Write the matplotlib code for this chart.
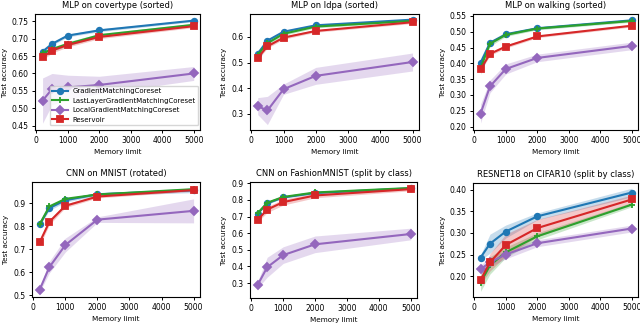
import matplotlib
matplotlib.use("Agg")
import matplotlib.pyplot as plt
import numpy as np

memory = [200, 500, 1000, 2000, 5000]

methods = ["GradientMatchingCoreset", "LastLayerGradientMatchingCoreset",
           "LocalGradientMatchingCoreset", "Reservoir"]
colors = ["#1f77b4", "#2ca02c", "#9467bd", "#d62728"]
markers = ["o", "+", "D", "s"]

titles = ["MLP on covertype (sorted)", "MLP on ldpa (sorted)", "MLP on walking (sorted)",
          "CNN on MNIST (rotated)", "CNN on FashionMNIST (split by class)",
          "RESNET18 on CIFAR10 (split by class)"]

# mean accuracy, rows = methods (GMC, LastLayer, Local, Reservoir)
covertype_acc = [[0.663, 0.685, 0.709, 0.724, 0.752],
                 [0.658, 0.670, 0.685, 0.710, 0.740],
                 [0.522, 0.555, 0.560, 0.567, 0.600],
                 [0.646, 0.666, 0.682, 0.705, 0.736]]
covertype_sd = [[0.004, 0.004, 0.004, 0.004, 0.003],
                [0.006, 0.006, 0.006, 0.005, 0.004],
                [0.065, 0.045, 0.035, 0.025, 0.020],
                [0.007, 0.007, 0.006, 0.005, 0.004]]

ldpa_acc = [[0.535, 0.585, 0.620, 0.645, 0.667],
            [0.530, 0.575, 0.612, 0.640, 0.662],
            [0.330, 0.313, 0.396, 0.448, 0.502],
            [0.518, 0.563, 0.597, 0.623, 0.657]]
ldpa_sd = [[0.005, 0.006, 0.005, 0.004, 0.004],
           [0.006, 0.007, 0.006, 0.005, 0.004],
           [0.033, 0.055, 0.020, 0.033, 0.035],
           [0.007, 0.007, 0.006, 0.005, 0.005]]

walking_acc = [[0.402, 0.465, 0.492, 0.511, 0.536],
               [0.385, 0.462, 0.490, 0.510, 0.534],
               [0.241, 0.327, 0.382, 0.417, 0.455],
               [0.381, 0.430, 0.453, 0.485, 0.519]]
walking_sd = [[0.004, 0.005, 0.004, 0.004, 0.003],
              [0.020, 0.008, 0.005, 0.004, 0.004],
              [0.030, 0.020, 0.016, 0.012, 0.012],
              [0.006, 0.005, 0.005, 0.004, 0.004]]

mnist_acc = [[0.808, 0.878, 0.912, 0.938, 0.955],
             [0.808, 0.885, 0.918, 0.937, 0.960],
             [0.525, 0.622, 0.718, 0.828, 0.866],
             [0.730, 0.818, 0.888, 0.928, 0.956]]
mnist_sd = [[0.006, 0.010, 0.008, 0.006, 0.010],
            [0.005, 0.006, 0.005, 0.004, 0.004],
            [0.010, 0.025, 0.030, 0.012, 0.052],
            [0.015, 0.012, 0.008, 0.006, 0.005]]

fashion_acc = [[0.718, 0.780, 0.815, 0.842, 0.870],
               [0.720, 0.783, 0.818, 0.845, 0.872],
               [0.289, 0.395, 0.468, 0.533, 0.595],
               [0.680, 0.742, 0.787, 0.827, 0.865]]
fashion_sd = [[0.005, 0.006, 0.005, 0.004, 0.004],
              [0.005, 0.006, 0.005, 0.004, 0.004],
              [0.020, 0.060, 0.050, 0.050, 0.035],
              [0.012, 0.018, 0.018, 0.014, 0.010]]

cifar_acc = [[0.243, 0.275, 0.303, 0.338, 0.393],
             [0.185, 0.225, 0.255, 0.292, 0.365],
             [0.216, 0.232, 0.250, 0.276, 0.310],
             [0.191, 0.232, 0.272, 0.311, 0.377]]
cifar_sd = [[0.006, 0.022, 0.015, 0.008, 0.010],
            [0.020, 0.020, 0.012, 0.008, 0.005],
            [0.010, 0.010, 0.010, 0.008, 0.008],
            [0.010, 0.020, 0.025, 0.020, 0.010]]

all_acc = [covertype_acc, ldpa_acc, walking_acc, mnist_acc, fashion_acc, cifar_acc]
all_sd = [covertype_sd, ldpa_sd, walking_sd, mnist_sd, fashion_sd, cifar_sd]

ylims = [(0.4375, 0.771), (0.237, 0.689), (0.189, 0.556),
         (0.493, 0.991), (0.21, 0.908), (0.152, 0.415)]
yticks = [np.arange(0.45, 0.76, 0.05), np.arange(0.3, 0.61, 0.1), np.arange(0.2, 0.56, 0.05),
          np.arange(0.5, 0.91, 0.1), np.arange(0.3, 0.91, 0.1), np.arange(0.2, 0.41, 0.05)]
yfmt = ["%.2f", "%.1f", "%.2f", "%.1f", "%.1f", "%.2f"]

# axes boxes in pixels: left, top, right, bottom
boxes = [(35, 14, 200, 130), (250, 14, 419, 130), (473, 14, 638, 130),
         (32, 182, 200, 297), (250, 182, 417, 298), (473, 183, 638, 297)]

W, H = 640, 324
fig = plt.figure(figsize=(6.4, 3.24), dpi=100)

for k in range(6):
    l, t, r, b = boxes[k]
    ax = fig.add_axes([l / W, 1 - b / H, (r - l) / W, (b - t) / H])
    for i in range(4):
        m = np.array(all_acc[k][i])
        s = np.array(all_sd[k][i])
        ax.fill_between(memory, m - s, m + s, color=colors[i], alpha=0.25, lw=0)
        ax.plot(memory, m, color=colors[i], marker=markers[i], lw=1.5,
                ms=4.5 if markers[i] == "+" else 4, mew=1.3,
                label=methods[i])
    ax.set_ylim(*ylims[k])
    ax.set_xlim(-40, 5200)
    ax.set_yticks(yticks[k])
    ax.set_yticklabels([yfmt[k] % v for v in yticks[k]])
    ax.set_xticks([0, 1000, 2000, 3000, 4000, 5000])
    ax.tick_params(labelsize=5.5, length=2.5, width=0.7, pad=2)
    for sp in ax.spines.values():
        sp.set_linewidth(0.8)
    ax.set_title(titles[k], fontsize=6, pad=4)
    ax.set_xlabel("Memory limit", fontsize=5.2, labelpad=3)
    ax.set_ylabel("Test accuracy", fontsize=5.2, labelpad=3)
    if k == 0:
        ax.legend(loc="lower right", fontsize=5, handlelength=2.2,
                  handletextpad=0.7, borderpad=0.35, labelspacing=0.5,
                  framealpha=0.8, borderaxespad=0,
                  bbox_to_anchor=(0.988, 0.043))

fig.savefig("out.png", dpi=100)
